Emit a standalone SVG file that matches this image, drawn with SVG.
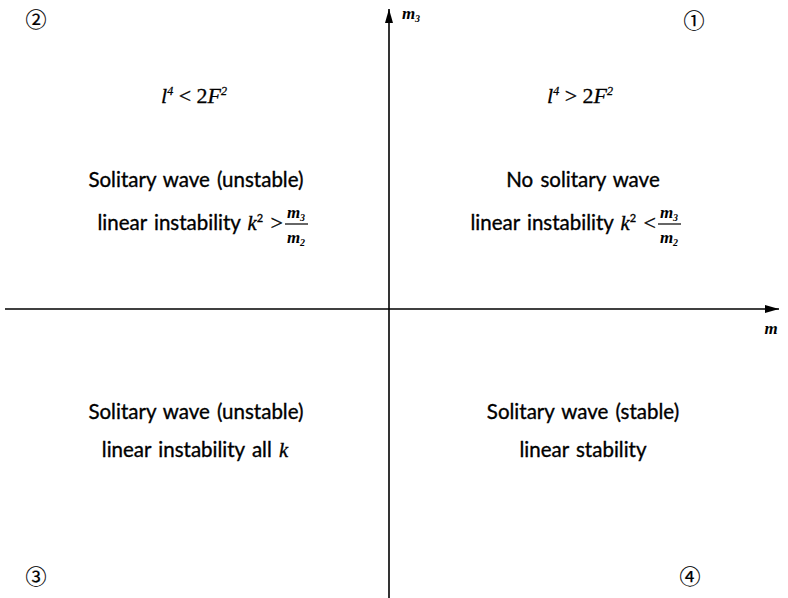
<svg xmlns="http://www.w3.org/2000/svg" width="788" height="598" viewBox="0 0 788 598">
<defs>
<marker id="ah" viewBox="0 0 14 8" refX="14" refY="4" markerWidth="14" markerHeight="8" markerUnits="userSpaceOnUse" orient="auto">
<path d="M0,0 L14,4 L0,8 Z" fill="#000"/>
</marker>
<style>
.t{font-family:Lato,"Open Sans",sans-serif;font-size:20.5px;fill:#000;stroke:#000;stroke-width:0.35;text-anchor:middle;word-spacing:2px}
.te{text-anchor:end}
.m{font-family:"Liberation Serif",serif;font-style:italic;font-size:22px;fill:#000;stroke:#000;stroke-width:0.3;text-anchor:middle}
.mb{font-family:"Liberation Serif",serif;font-style:italic;font-weight:bold;font-size:17px;fill:#000;text-anchor:middle}
.k{font-family:"Liberation Serif",serif;font-style:italic}
.r{font-family:"Liberation Serif",serif;font-size:22px}
.c{font-family:"Noto Sans CJK JP","DejaVu Sans",sans-serif;font-size:21px;fill:#000;stroke:#000;stroke-width:0.2;text-anchor:middle}
.ax{stroke:#000;stroke-width:1.6;fill:none}
</style>
</defs>
<rect width="788" height="598" fill="#fff"/>
<g id="axes">
<line class="ax" x1="389" y1="598" x2="389" y2="9" marker-end="url(#ah)"/>
<line class="ax" x1="5" y1="309" x2="779" y2="309" marker-end="url(#ah)"/>
<text class="mb" x="411" y="19">m<tspan font-size="10" dy="3">3</tspan></text>
<text class="mb" x="771" y="334">m</text>
</g>
<g id="q1">
<text class="c" x="694" y="28">①</text>
<text class="m" x="580" y="103">l<tspan font-size="12" dy="-8">4</tspan><tspan dy="8" font-style="normal"> &gt; 2</tspan>F<tspan font-size="12" dy="-8">2</tspan></text>
<text class="t" x="583" y="187">No solitary wave</text>
<text class="t te" x="656" y="230">linear instability <tspan class="k">k</tspan><tspan font-size="11" dy="-8">2</tspan><tspan dy="8" class="r"> &lt;</tspan></text>
<text class="mb" x="669" y="218">m<tspan font-size="10" dy="3">3</tspan></text>
<line x1="658" y1="224" x2="681" y2="224" stroke="#000" stroke-width="1.2"/>
<text class="mb" x="669" y="243">m<tspan font-size="10" dy="3">2</tspan></text>
</g>
<g id="q2">
<text class="c" x="36" y="27">②</text>
<text class="m" x="194" y="103">l<tspan font-size="12" dy="-8">4</tspan><tspan dy="8" font-style="normal"> &lt; 2</tspan>F<tspan font-size="12" dy="-8">2</tspan></text>
<text class="t" x="196" y="187">Solitary wave (unstable)</text>
<text class="t te" x="283" y="230">linear instability <tspan class="k">k</tspan><tspan font-size="11" dy="-8">2</tspan><tspan dy="8" class="r"> &gt;</tspan></text>
<text class="mb" x="296" y="218">m<tspan font-size="10" dy="3">3</tspan></text>
<line x1="285" y1="224" x2="308" y2="224" stroke="#000" stroke-width="1.2"/>
<text class="mb" x="296" y="243">m<tspan font-size="10" dy="3">2</tspan></text>
</g>
<g id="q3">
<text class="c" x="36" y="584">③</text>
<text class="t" x="196" y="419">Solitary wave (unstable)</text>
<text class="t" x="195" y="457">linear instability all <tspan class="k">k</tspan></text>
</g>
<g id="q4">
<text class="c" x="690" y="584">④</text>
<text class="t" x="583" y="419">Solitary wave (stable)</text>
<text class="t" x="583" y="457">linear stability</text>
</g>
</svg>
